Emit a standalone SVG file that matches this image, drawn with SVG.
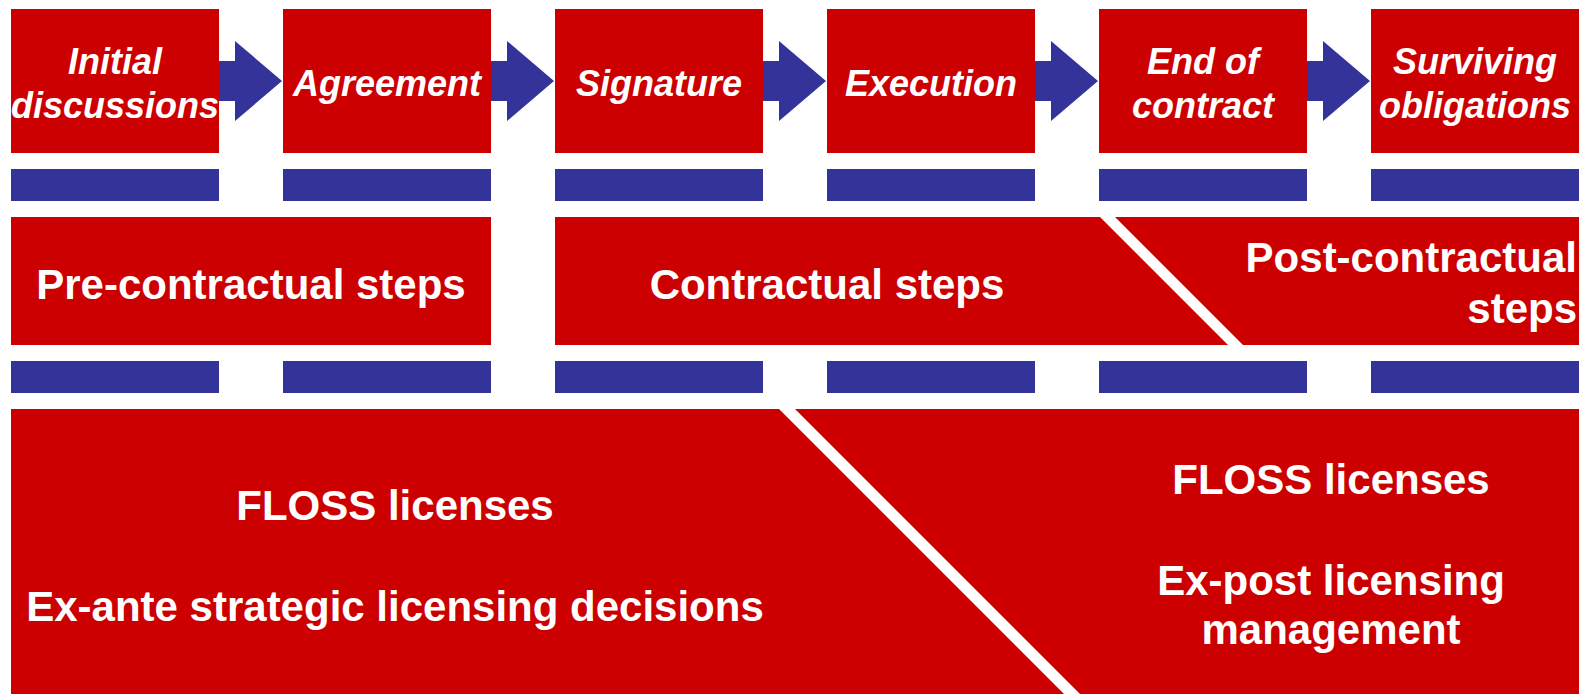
<svg xmlns="http://www.w3.org/2000/svg" width="1585" height="694" viewBox="0 0 1585 694">
  <style>
    .red { fill: #CC0000; }
    .blue { fill: #333399; }
    .step { font-family: "Liberation Sans", Arial, sans-serif; font-weight: bold; font-style: italic; font-size: 36px; fill: #FFFFFF; text-anchor: middle; }
    .phase { font-family: "Liberation Sans", Arial, sans-serif; font-weight: bold; font-size: 42px; fill: #FFFFFF; text-anchor: middle; }
    .phaseR { font-family: "Liberation Sans", Arial, sans-serif; font-weight: bold; font-size: 42px; fill: #FFFFFF; text-anchor: end; }
  </style>
  <defs>
    <path id="arrow" d="M0,61 H16 V41 L63,81 L16,121 V101 H0 Z"/>
  </defs>
  <rect width="1585" height="694" fill="#FFFFFF"/>

  <!-- Row 1: steps -->
  <g id="step-initial">
    <rect class="red" x="11" y="9" width="208" height="144"/>
    <text class="step" x="115" y="74">Initial</text>
    <text class="step" x="115" y="118">discussions</text>
  </g>
  <g id="step-agreement">
    <rect class="red" x="283" y="9" width="208" height="144"/>
    <text class="step" x="387" y="96">Agreement</text>
  </g>
  <g id="step-signature">
    <rect class="red" x="555" y="9" width="208" height="144"/>
    <text class="step" x="659" y="96">Signature</text>
  </g>
  <g id="step-execution">
    <rect class="red" x="827" y="9" width="208" height="144"/>
    <text class="step" x="931" y="96">Execution</text>
  </g>
  <g id="step-end">
    <rect class="red" x="1099" y="9" width="208" height="144"/>
    <text class="step" x="1203" y="74">End of</text>
    <text class="step" x="1203" y="118">contract</text>
  </g>
  <g id="step-surviving">
    <rect class="red" x="1371" y="9" width="208" height="144"/>
    <text class="step" x="1475" y="74">Surviving</text>
    <text class="step" x="1475" y="118">obligations</text>
  </g>

  <!-- Connectors: arrows between steps -->
  <g id="connectors" class="blue">
    <use href="#arrow" x="219"/>
    <use href="#arrow" x="491"/>
    <use href="#arrow" x="763"/>
    <use href="#arrow" x="1035"/>
    <use href="#arrow" x="1307"/>
  </g>

  <!-- Blue bars row 1 -->
  <g id="bars-1" class="blue">
    <rect x="11" y="169" width="208" height="32"/>
    <rect x="283" y="169" width="208" height="32"/>
    <rect x="555" y="169" width="208" height="32"/>
    <rect x="827" y="169" width="208" height="32"/>
    <rect x="1099" y="169" width="208" height="32"/>
    <rect x="1371" y="169" width="208" height="32"/>
  </g>

  <!-- Row 2: phases -->
  <g id="phase-pre">
    <rect class="red" x="11" y="217" width="480" height="128"/>
    <text class="phase" x="251" y="299">Pre-contractual steps</text>
  </g>
  <g id="phase-contractual">
    <polygon class="red" points="555,217 1100,217 1228,345 555,345"/>
    <text class="phase" x="827" y="299">Contractual steps</text>
  </g>
  <g id="phase-post">
    <polygon class="red" points="1115,217 1579,217 1579,345 1243,345"/>
    <text class="phaseR" x="1577" y="272">Post-contractual</text>
    <text class="phaseR" x="1577" y="323">steps</text>
  </g>

  <!-- Blue bars row 2 -->
  <g id="bars-2" class="blue">
    <rect x="11" y="361" width="208" height="32"/>
    <rect x="283" y="361" width="208" height="32"/>
    <rect x="555" y="361" width="208" height="32"/>
    <rect x="827" y="361" width="208" height="32"/>
    <rect x="1099" y="361" width="208" height="32"/>
    <rect x="1371" y="361" width="208" height="32"/>
  </g>

  <!-- Row 3: licensing -->
  <g id="licensing-ex-ante">
    <polygon class="red" points="11,409 779,409 1064,694 11,694"/>
    <text class="phase" x="395" y="520">FLOSS licenses</text>
    <text class="phase" x="395" y="621">Ex-ante strategic licensing decisions</text>
  </g>
  <g id="licensing-ex-post">
    <polygon class="red" points="795,409 1579,409 1579,694 1080,694"/>
    <text class="phase" x="1331" y="494">FLOSS licenses</text>
    <text class="phase" x="1331" y="595">Ex-post licensing</text>
    <text class="phase" x="1331" y="644">management</text>
  </g>
</svg>
